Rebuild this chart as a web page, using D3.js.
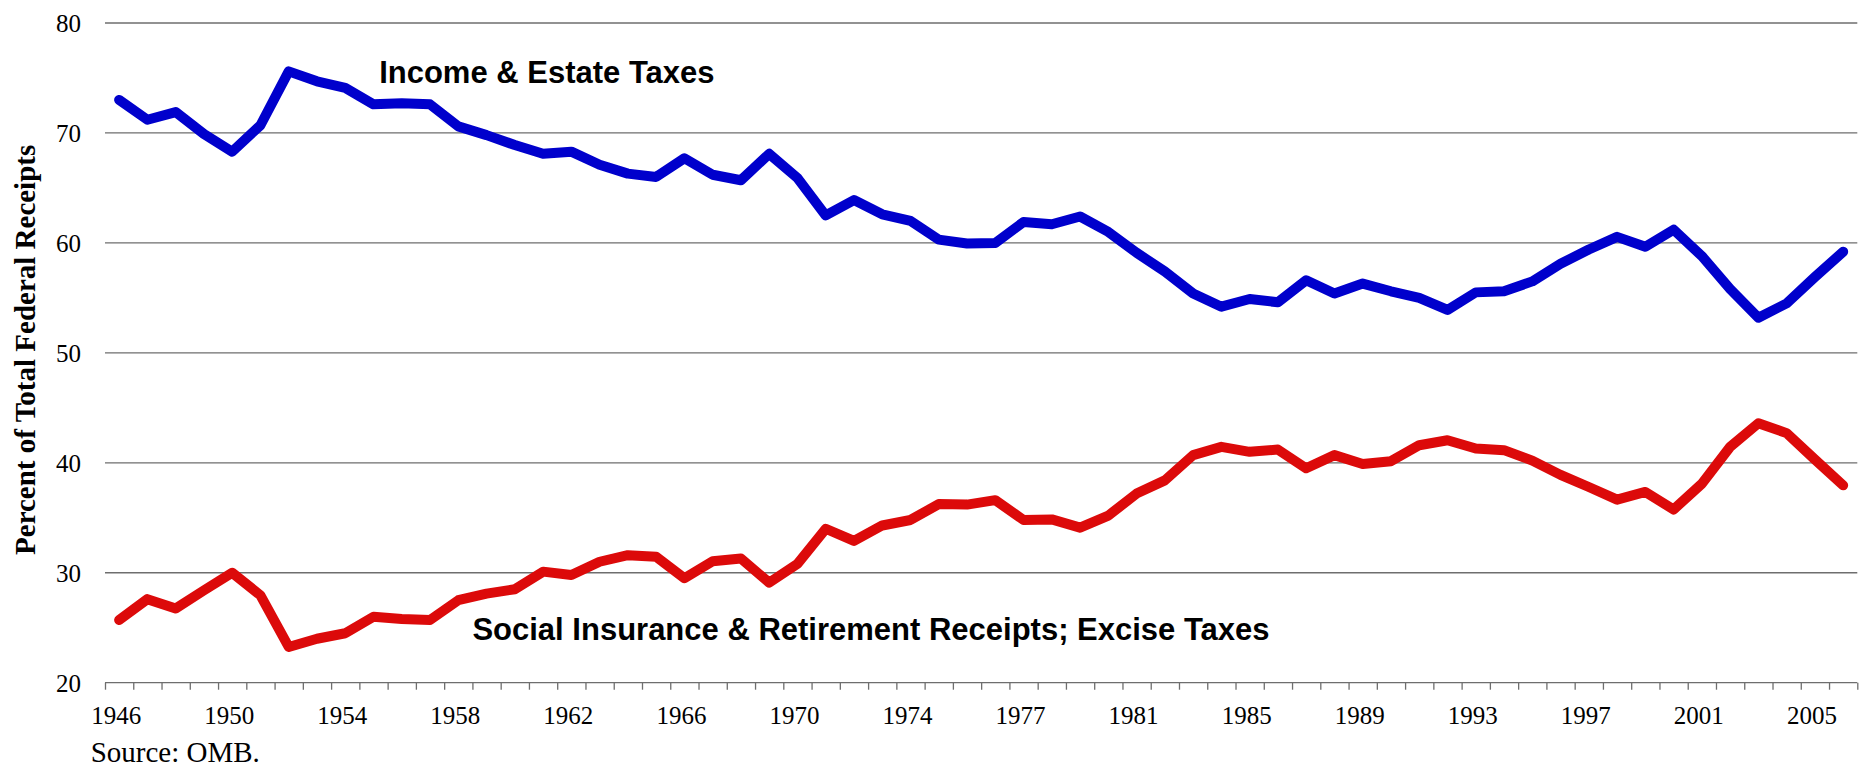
<!DOCTYPE html>
<html>
<head>
<meta charset="utf-8">
<script src="https://cdn.jsdelivr.net/npm/d3@7/dist/d3.min.js"></script>
<style>
  body { margin: 0; background: #fff; }
  svg { display: block; }
  .grid line { stroke: #6e6e6e; stroke-width: 1.3; }
  .tick text { font-family: "Liberation Serif", "Times New Roman", serif; font-size: 25px; fill: #000; }
  .seriesLabel { font-family: "Liberation Sans", Arial, sans-serif; font-weight: bold; font-size: 31px; fill: #000; }
</style>
</head>
<body>
<svg id="graph" width="1864" height="769"></svg>
<script>
"use strict";

// fiscal years, with the 1976 transition quarter as its own category
var years = d3.range(1946, 1977).map(String)
  .concat(["TQ"])
  .concat(d3.range(1977, 2007).map(String));

var incomeEstate = [
  73.0, 71.2, 71.9, 69.9, 68.3, 70.7, 75.6, 74.7, 74.1, 72.6,
  72.7, 72.6, 70.6, 69.8, 68.9, 68.1, 68.3, 67.1, 66.3, 66.0,
  67.7, 66.2, 65.7, 68.1, 65.9, 62.5, 63.9, 62.6, 62.0, 60.3,
  59.95, 60.0,
  61.9, 61.7, 62.4, 61.0, 59.1, 57.4, 55.4, 54.2, 54.9, 54.6,
  56.6, 55.4, 56.3, 55.6, 55.0, 53.9, 55.5, 55.6, 56.5, 58.1,
  59.4, 60.55, 59.65, 61.2, 58.8, 55.8, 53.2, 54.5, 56.9, 59.2
];

var socialExcise = [
  25.7, 27.6, 26.75, 28.4, 30.0, 27.95, 23.25, 24.0, 24.5, 26.0,
  25.8, 25.7, 27.5, 28.1, 28.5, 30.1, 29.8, 31.0, 31.6, 31.45,
  29.5, 31.05, 31.3, 29.1, 30.8, 34.0, 32.9, 34.3, 34.8, 36.25,
  36.2, 36.6,
  34.8, 34.85, 34.1, 35.2, 37.2, 38.4, 40.7, 41.45, 41.0, 41.2,
  39.5, 40.7, 39.9, 40.15, 41.6, 42.05, 41.3, 41.15, 40.2, 38.9,
  37.8, 36.65, 37.35, 35.75, 38.1, 41.45, 43.6, 42.7, 40.3, 37.95
];

var yTicks = [20, 30, 40, 50, 60, 70, 80];

var series = [
  {name: "Income & Estate Taxes", values: incomeEstate, color: "#0000cc",
   labelAt: [9.7, 74.5]},
  {name: "Social Insurance & Retirement Receipts; Excise Taxes", values: socialExcise, color: "#dc0a0a",
   labelAt: [13.0, 23.9]}
];

var svg = d3.select("#graph"),
    margin = {top: 23, right: 6.7, bottom: 86.3, left: 105},
    width = +svg.attr("width") - margin.left - margin.right,
    height = +svg.attr("height") - margin.top - margin.bottom;

var x = d3.scaleBand().domain(years).range([0, width]).padding(0),
    xi = d3.scaleLinear().domain([0, years.length]).range([0, width]),
    y = d3.scaleLinear().domain([20, 80]).range([height, 0]);

var plot = svg.append("g")
  .attr("transform", "translate(" + margin.left + "," + margin.top + ")");

// gridlines (the 20 line doubles as the category axis)
plot.append("g")
  .attr("class", "grid")
  .selectAll("line")
  .data(yTicks)
  .join("line")
    .attr("x1", 0)
    .attr("x2", width)
    .attr("y1", d => y(d))
    .attr("y2", d => y(d));

// tick marks between categories
plot.append("g")
  .attr("transform", "translate(0," + height + ")")
  .call(d3.axisBottom(xi).tickValues(d3.range(years.length + 1)).tickFormat("").tickSize(7))
  .call(g => g.select(".domain").remove())
  .call(g => g.selectAll("line").attr("stroke", "#6e6e6e").attr("stroke-width", 1.3));

// every fourth category label
plot.append("g")
  .attr("transform", "translate(0," + height + ")")
  .call(d3.axisBottom(x)
    .tickValues(years.filter((d, i) => i % 4 == 0))
    .tickSize(0)
    .tickPadding(24))
  .call(g => g.select(".domain").remove())
  .call(g => g.selectAll("text").attr("dx", "-3"));

plot.append("g")
  .call(d3.axisLeft(y).tickValues(yTicks).tickSize(0).tickPadding(24))
  .call(g => g.select(".domain").remove())
  .call(g => g.selectAll("text").attr("dy", "0.34em"));

var line = d3.line()
  .x((d, i) => x(years[i]) + x.bandwidth() / 2)
  .y(d => y(d));

plot.selectAll("path.series")
  .data(series)
  .join("path")
    .attr("class", "series")
    .attr("fill", "none")
    .attr("stroke", d => d.color)
    .attr("stroke-width", 10)
    .attr("stroke-linejoin", "round")
    .attr("stroke-linecap", "round")
    .attr("d", d => line(d.values));

plot.selectAll("text.seriesLabel")
  .data(series)
  .join("text")
    .attr("class", "seriesLabel")
    .attr("x", d => xi(d.labelAt[0]))
    .attr("y", d => y(d.labelAt[1]))
    .text(d => d.name);

svg.append("text")
  .attr("transform", "translate(35," + (margin.top + height / 2 - 3) + ") rotate(-90)")
  .attr("text-anchor", "middle")
  .style("font-family", "'Liberation Serif', 'Times New Roman', serif")
  .style("font-weight", "bold")
  .style("font-size", "29px")
  .text("Percent of Total Federal Receipts");

svg.append("text")
  .attr("x", 90.7)
  .attr("y", 762)
  .style("font-family", "'Liberation Serif', 'Times New Roman', serif")
  .style("font-size", "29px")
  .text("Source: OMB.");
</script>
</body>
</html>
